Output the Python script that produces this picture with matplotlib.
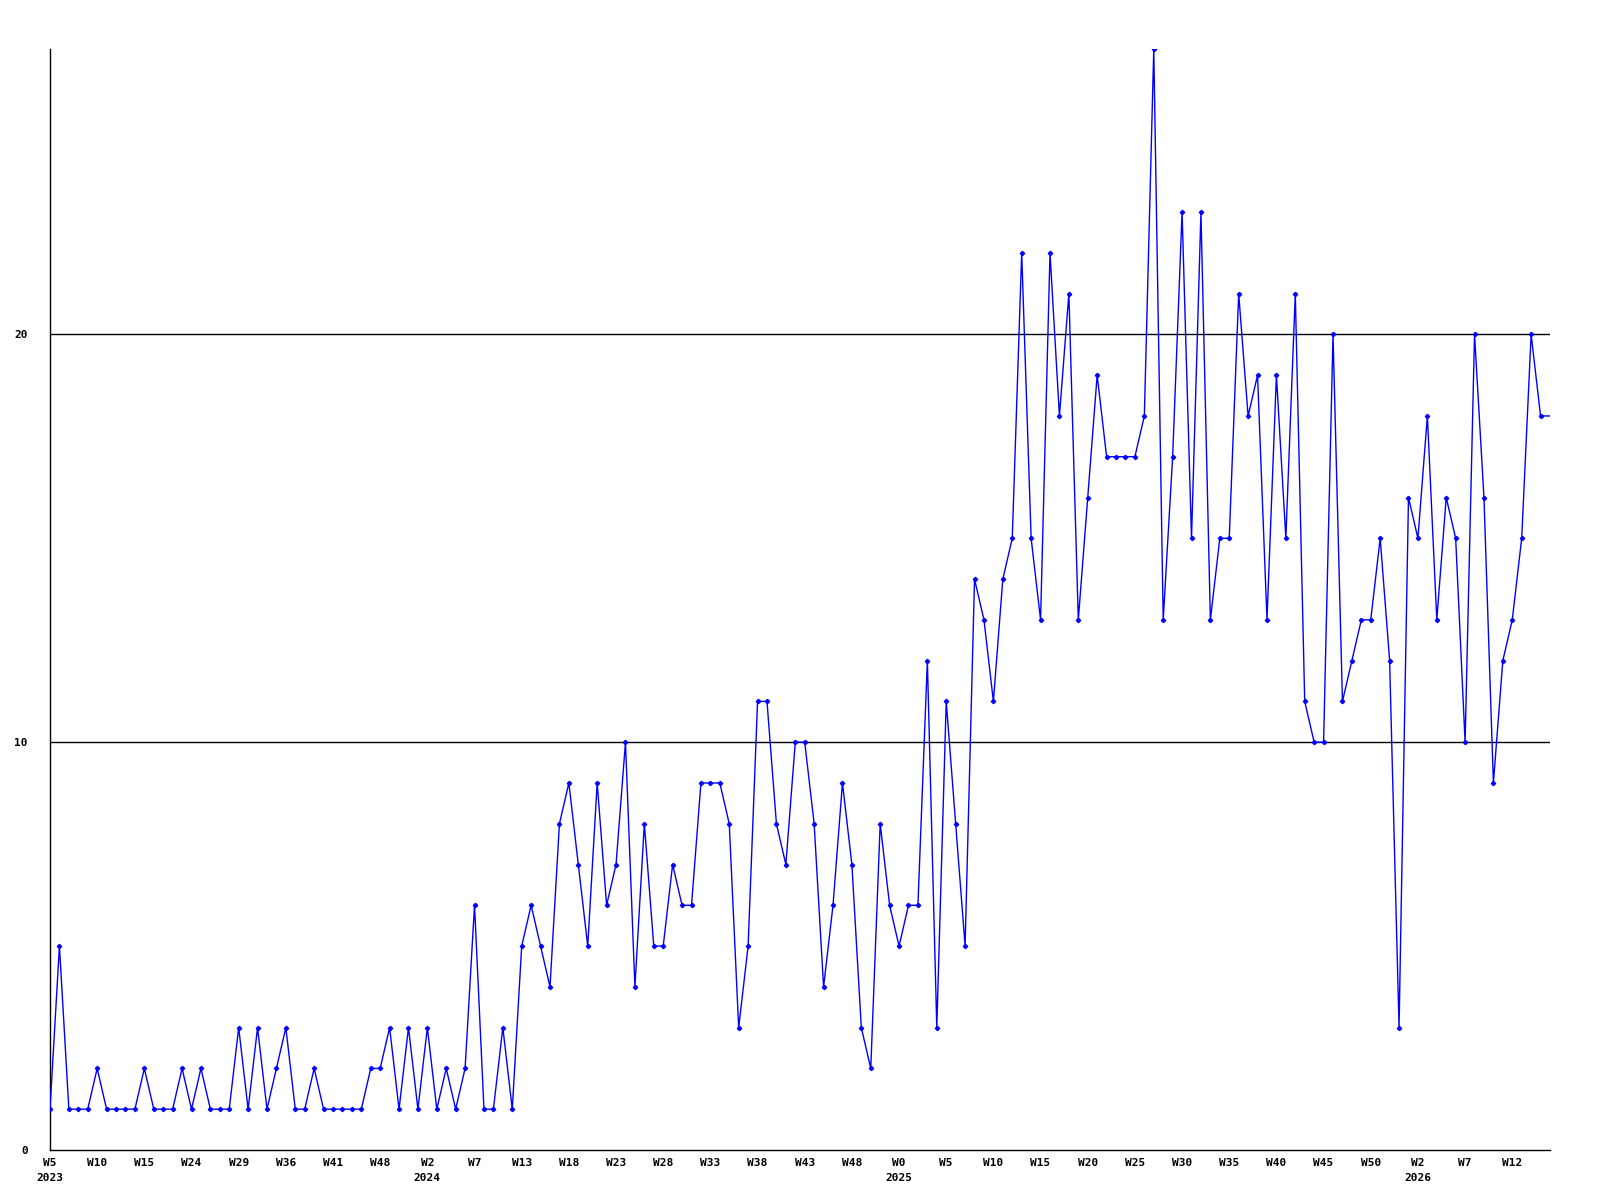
import numpy as np
import matplotlib
matplotlib.use("Agg")
from matplotlib import pyplot as plt

# weekly counts, one per week shown on the x axis
values = [1, 5, 1, 1, 1, 2, 1, 1, 1, 1,
          2, 1, 1, 1, 2, 1, 2, 1, 1, 1,
          3, 1, 3, 1, 2, 3, 1, 1, 2, 1,
          1, 1, 1, 1, 2, 2, 3, 1, 3, 1,
          3, 1, 2, 1, 2, 6, 1, 1, 3, 1,
          5, 6, 5, 4, 8, 9, 7, 5, 9, 6,
          7, 10, 4, 8, 5, 5, 7, 6, 6, 9,
          9, 9, 8, 3, 5, 11, 11, 8, 7, 10,
          10, 8, 4, 6, 9, 7, 3, 2, 8, 6,
          5, 6, 6, 12, 3, 11, 8, 5, 14, 13,
          11, 14, 15, 22, 15, 13, 22, 18, 21, 13,
          16, 19, 17, 17, 17, 17, 18, 27, 13, 17,
          23, 15, 23, 13, 15, 15, 21, 18, 19, 13,
          19, 15, 21, 11, 10, 10, 20, 11, 12, 13,
          13, 15, 12, 3, 16, 15, 18, 13, 16, 15,
          10, 20, 16, 9, 12, 13, 15, 20, 18, 18]

# labels every 5th point
tick_labels = ["W5\n2023", "W10", "W15", "W24", "W29", "W36", "W41", "W48",
               "W2\n2024", "W7", "W13", "W18", "W23", "W28", "W33", "W38",
               "W43", "W48", "W0\n2025", "W5", "W10", "W15", "W20", "W25",
               "W30", "W35", "W40", "W45", "W50", "W2\n2026", "W7", "W12"]
y_ticks = [0, 10, 20]

x = np.arange(len(values))

fig = plt.figure(figsize=(16, 12), dpi=100)
ax = fig.add_axes([0.03125, 0.0417, 0.9375, 0.9175])

ax.plot(x, values, color='#0000ff', linewidth=1.0, marker='D', markersize=2.2,
        markevery=list(range(len(values) - 1)), zorder=3)

ax.set_xlim(0, len(values) - 1)
ax.set_ylim(0, 27)

for v in y_ticks[1:]:
    ax.axhline(v, color='black', linewidth=1.0, zorder=1)

ax.set_yticks(y_ticks)
ax.set_yticklabels([str(v) for v in y_ticks], fontsize=8, fontweight='bold',
                   family='DejaVu Sans Mono')
ax.set_xticks(x[::5])
ax.set_xticklabels(tick_labels, fontsize=8, fontweight='bold',
                   family='DejaVu Sans Mono', linespacing=1.6, va='top')
ax.tick_params(axis='both', length=0)
ax.tick_params(axis='y', pad=16)
ax.tick_params(axis='x', pad=6)

ax.spines['top'].set_visible(False)
ax.spines['right'].set_visible(False)
ax.spines['left'].set_linewidth(1.0)
ax.spines['bottom'].set_linewidth(1.0)

fig.savefig("out.png", dpi=100)
